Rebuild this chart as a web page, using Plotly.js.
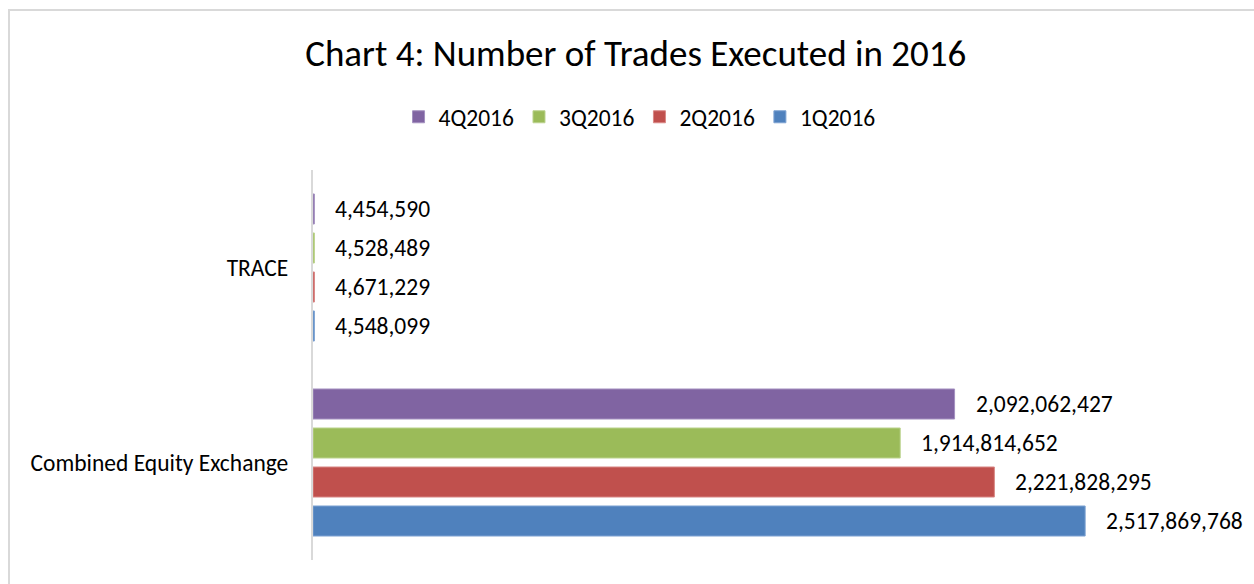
<!DOCTYPE html>
<html>
<head>
<meta charset="utf-8">
<script src="https://cdn.plot.ly/plotly-3.0.1.min.js"></script>
<style>
html,body{margin:0;padding:0;background:#fff;overflow:hidden;}
#frame{position:absolute;left:8px;top:9px;width:1300px;height:700px;border:2px solid #d9d9d9;box-sizing:border-box;}
#chart{position:absolute;left:0;top:0;width:1254px;height:584px;}
</style>
</head>
<body>
<div id="frame"></div>
<div id="chart"></div>
<script>
const categories = ["Combined Equity Exchange", "TRACE"];
const seriesNames = ["1Q2016", "2Q2016", "3Q2016", "4Q2016"];
const q1 = [2517869768, 4548099];
const q2 = [2221828295, 4671229];
const q3 = [1914814652, 4528489];
const q4 = [2092062427, 4454590];
const seriesValues = [q1, q2, q3, q4];
const colors = ["#4f81bd", "#c0504d", "#9bbb59", "#8064a2"];
const edgeColors = ["#7ea3d3", "#d98886", "#bcd38e", "#a491c0"];
const fontFamily = "Carlito, Calibri, Lato, 'Open Sans', sans-serif";

const fmt = v => v.toLocaleString('en-US');

const traces = seriesValues.map((vals, i) => ({
  type: 'bar',
  orientation: 'h',
  name: seriesNames[i],
  y: categories,
  x: vals,
  marker: {color: colors[i], line: {color: edgeColors[i], width: 1}},
  text: vals.map(v => fmt(v)),
  textposition: 'none',
  hoverinfo: 'none'
}));

const annotations = [];
const nS = seriesNames.length;
const bargap = 0.2;
const groupWidth = 1 - bargap;
seriesValues.forEach((vals, i) => {
  vals.forEach((v, j) => {
    const offset = -groupWidth / 2 + groupWidth / nS * (i + 0.5);
    annotations.push({
      x: v, y: j + offset, xref: 'x', yref: 'y',
      text: fmt(v), showarrow: false, xanchor: 'left', yanchor: 'middle',
      xshift: 19, font: {family: fontFamily, size: 23.5, color: '#000'}
    });
  });
});

const layout = {
  width: 1254, height: 584,
  margin: {l: 313, r: 21, t: 170, b: 24},
  paper_bgcolor: 'rgba(0,0,0,0)',
  plot_bgcolor: 'rgba(0,0,0,0)',
  barmode: 'group',
  bargap: bargap,
  bargroupgap: 0.23,
  title: {
    text: 'Chart 4: Number of Trades Executed in 2016',
    font: {family: fontFamily, size: 37, color: '#000'},
    x: 0.507, xref: 'container', xanchor: 'center',
    y: 1 - 53/584, yref: 'container', yanchor: 'middle'
  },
  showlegend: true,
  legend: {
    orientation: 'h', traceorder: 'reversed',
    x: 0.51, xref: 'container', xanchor: 'center',
    y: 1 - 117/584, yref: 'container', yanchor: 'middle',
    font: {family: fontFamily, size: 23.5, color: '#000'},
    itemwidth: 30
  },
  xaxis: {
    range: [0, 3000000000], showgrid: false, zeroline: false,
    showticklabels: false, showline: false, ticks: '', fixedrange: true
  },
  yaxis: {
    type: 'category', range: [-0.5, 1.5],
    showline: true, linecolor: '#d9d9d9', linewidth: 2,
    ticks: '', showgrid: false, zeroline: false,
    tickfont: {family: fontFamily, size: 23.5, color: '#000'},
    ticklabelstandoff: 18
  },
  annotations: annotations
};

Plotly.newPlot('chart', traces, layout, {displayModeBar: false, staticPlot: true});
</script>
</body>
</html>
